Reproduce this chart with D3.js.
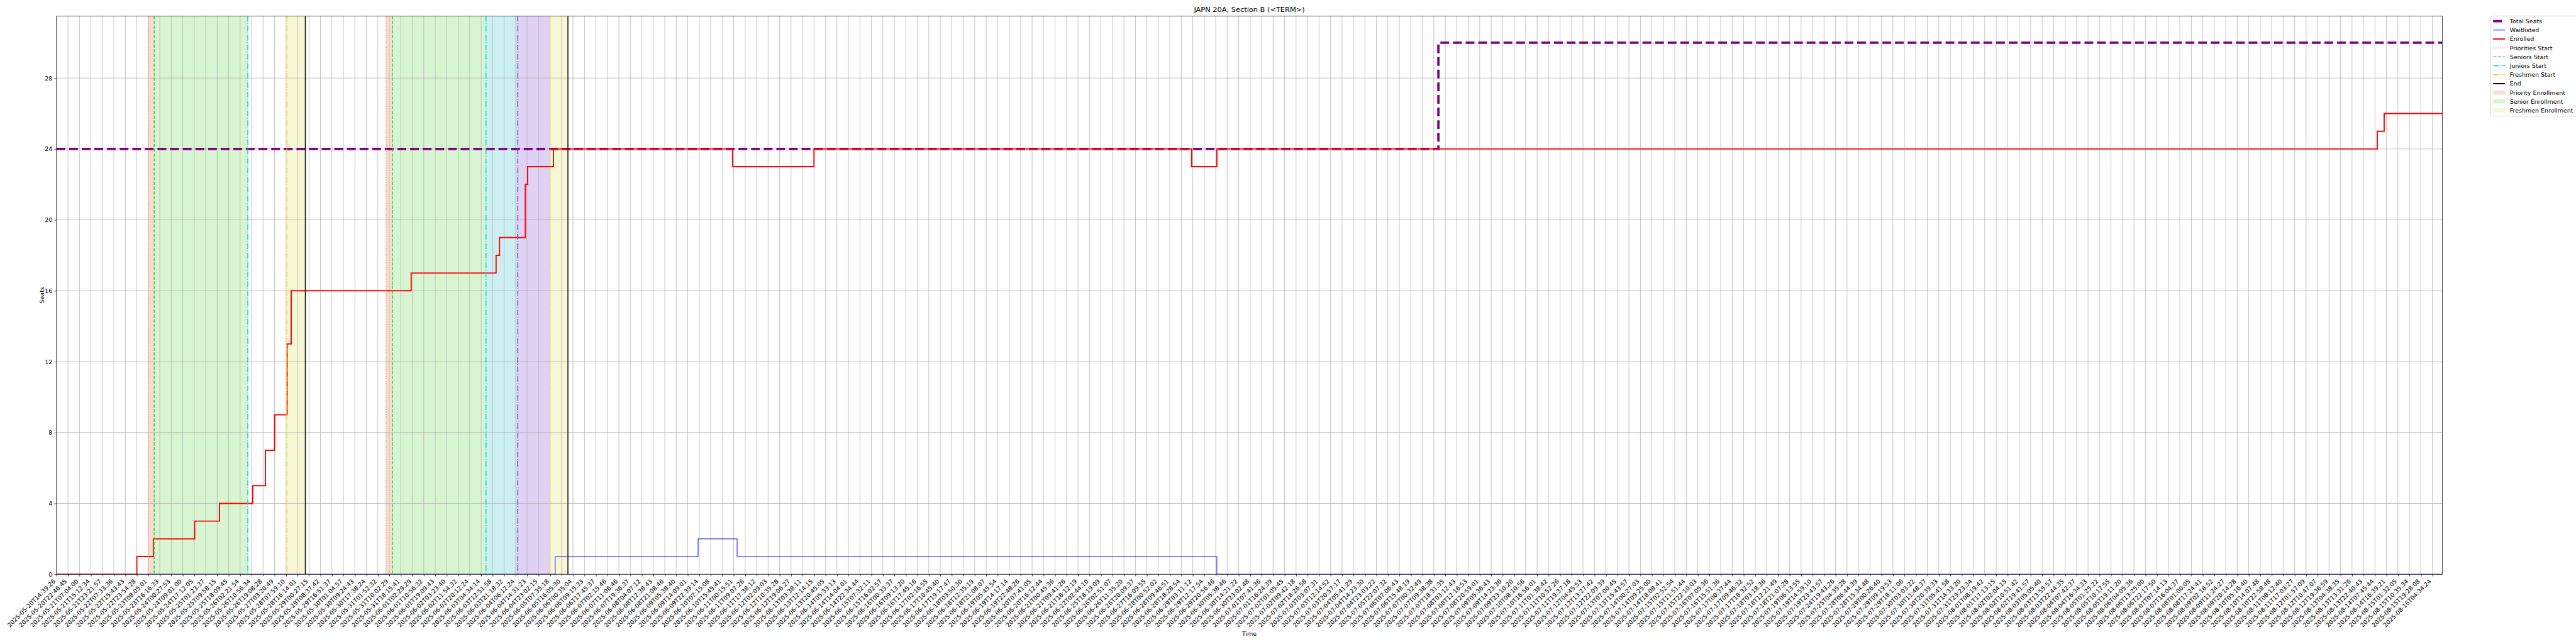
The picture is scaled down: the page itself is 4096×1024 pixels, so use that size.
<!DOCTYPE html>
<html><head><meta charset="utf-8">
<script src="https://cdn.jsdelivr.net/npm/d3@7"></script>
<style>body{margin:0;background:#fff} svg{display:block} text{font-family:"DejaVu Sans",sans-serif;fill:#000}</style>
</head><body><svg id="c" width="4096" height="1024"></svg>
<script>
// ---------- DATA ----------
const tickLabels = [
"2025-05-20T14:39:26","2025-05-20T22:46:45","2025-05-21T07:04:00","2025-05-21T15:12:34","2025-05-21T23:21:57",
"2025-05-22T07:33:36","2025-05-22T15:43:43","2025-05-22T23:54:28","2025-05-23T08:05:01","2025-05-23T16:16:33",
"2025-05-24T00:27:53","2025-05-24T09:01:00","2025-05-24T17:12:05","2025-05-25T01:23:37","2025-05-25T09:58:15",
"2025-05-25T18:09:45","2025-05-26T02:21:54","2025-05-26T10:56:34","2025-05-26T19:08:28","2025-05-27T03:20:49",
"2025-05-28T07:59:10","2025-05-28T16:14:01","2025-05-29T00:27:15","2025-05-29T08:37:42","2025-05-29T16:51:37",
"2025-05-30T01:04:57","2025-05-30T09:24:43","2025-05-30T17:38:24","2025-05-31T01:52:32","2025-05-31T10:02:29",
"2025-05-31T18:15:41","2025-06-01T02:29:29","2025-06-01T10:56:32","2025-06-01T19:09:43","2025-06-02T03:23:40",
"2025-06-02T11:54:32","2025-06-02T20:12:24","2025-06-03T04:34:14","2025-06-03T12:51:58","2025-06-03T21:18:32",
"2025-06-04T06:12:24","2025-06-04T14:31:23","2025-06-04T23:02:15","2025-06-05T07:35:18","2025-06-05T16:05:30",
"2025-06-06T00:35:04","2025-06-06T09:15:33","2025-06-06T17:45:37","2025-06-07T02:15:46","2025-06-07T11:06:46",
"2025-06-07T19:36:37","2025-06-08T04:07:12","2025-06-08T12:38:43","2025-06-08T21:08:46","2025-06-09T05:38:40",
"2025-06-09T14:09:01","2025-06-09T22:39:14","2025-06-10T07:15:08","2025-06-10T15:45:41","2025-06-11T00:15:51",
"2025-06-11T09:07:26","2025-06-11T17:38:12","2025-06-12T02:09:03","2025-06-12T10:35:28","2025-06-12T19:06:27",
"2025-06-13T03:38:11","2025-06-13T12:14:15","2025-06-13T20:45:05","2025-06-14T05:33:13","2025-06-14T14:04:01",
"2025-06-14T22:34:44","2025-06-15T07:32:11","2025-06-15T16:02:57","2025-06-16T00:33:37","2025-06-16T09:13:20",
"2025-06-16T17:45:16","2025-06-17T02:16:55","2025-06-17T10:45:40","2025-06-17T19:17:47","2025-06-18T03:50:30",
"2025-06-18T12:35:19","2025-06-18T21:08:07","2025-06-19T05:45:54","2025-06-19T14:17:14","2025-06-19T22:48:26",
"2025-06-20T07:41:05","2025-06-20T16:12:44","2025-06-21T00:45:36","2025-06-21T09:41:26","2025-06-21T18:12:19",
"2025-06-22T02:44:10","2025-06-25T18:19:09","2025-06-26T02:51:07","2025-06-26T11:35:20","2025-06-26T20:09:37",
"2025-06-27T16:09:55","2025-06-28T00:52:02","2025-06-28T09:46:51","2025-06-28T18:28:54","2025-06-29T03:11:12",
"2025-06-29T12:17:54","2025-06-29T20:56:46","2025-06-30T05:38:46","2025-06-30T14:21:22","2025-06-30T23:02:48",
"2025-07-01T07:41:36","2025-07-01T16:24:39","2025-07-02T01:05:45","2025-07-02T09:42:18","2025-07-02T18:26:58",
"2025-07-03T03:07:31","2025-07-03T12:14:52","2025-07-03T20:57:17","2025-07-04T05:41:29","2025-07-04T14:23:30",
"2025-07-04T23:03:22","2025-07-05T22:07:32","2025-07-06T07:06:43","2025-07-06T15:48:19","2025-07-07T00:32:49",
"2025-07-07T09:38:38","2025-07-07T18:31:35","2025-07-08T03:12:43","2025-07-08T12:16:53","2025-07-08T20:59:01",
"2025-07-09T05:36:43","2025-07-09T14:23:36","2025-07-09T23:10:20","2025-07-10T08:10:56","2025-07-10T16:56:01",
"2025-07-11T01:38:42","2025-07-11T10:52:26","2025-07-11T19:37:18","2025-07-12T04:45:53","2025-07-12T13:27:42",
"2025-07-12T22:09:39","2025-07-13T07:00:45","2025-07-13T15:43:57","2025-07-14T00:27:03","2025-07-14T09:25:00",
"2025-07-14T18:08:41","2025-07-15T02:52:54","2025-07-15T11:51:44","2025-07-15T22:10:03","2025-07-16T07:05:36",
"2025-07-16T15:51:36","2025-07-17T00:37:44","2025-07-17T09:46:32","2025-07-17T18:32:52","2025-07-18T03:18:36",
"2025-07-18T12:21:49","2025-07-18T21:07:28","2025-07-19T06:13:55","2025-07-19T14:59:10","2025-07-19T23:43:57",
"2025-07-24T19:43:26","2025-07-25T04:35:28","2025-07-28T06:44:39","2025-07-28T15:34:48","2025-07-29T00:26:40",
"2025-07-29T09:19:53","2025-07-29T18:11:06","2025-07-30T03:03:22","2025-07-30T11:48:37","2025-07-30T20:39:33",
"2025-07-31T05:41:58","2025-07-31T14:33:20","2025-07-31T23:23:34","2025-08-01T08:19:42","2025-08-01T17:13:15",
"2025-08-02T02:04:15","2025-08-02T10:51:42","2025-08-02T19:41:57","2025-08-03T05:05:40","2025-08-03T13:55:57",
"2025-08-03T22:44:35","2025-08-04T07:42:37","2025-08-04T16:34:33","2025-08-05T01:25:22","2025-08-05T10:17:55",
"2025-08-05T19:11:20","2025-08-06T04:05:36","2025-08-06T13:25:00","2025-08-06T22:17:50","2025-08-07T07:14:13",
"2025-08-07T16:04:37","2025-08-08T01:00:05","2025-08-08T17:24:41","2025-08-09T02:16:52","2025-08-09T11:24:27",
"2025-08-09T20:14:28","2025-08-10T05:16:40","2025-08-10T14:07:48","2025-08-10T22:58:48","2025-08-11T08:12:40",
"2025-08-11T17:03:27","2025-08-12T01:57:09","2025-08-12T10:47:07","2025-08-12T19:36:59","2025-08-13T04:38:35",
"2025-08-13T13:31:26","2025-08-13T22:40:43","2025-08-14T07:45:44","2025-08-14T16:39:21","2025-08-15T01:32:05",
"2025-08-15T10:35:34","2025-08-15T19:28:08","2025-08-16T04:34:24"
];
const xEnd = 207.86;               // last sample position, in tick units
const yTicks = [0, 4, 8, 12, 16, 20, 24, 28];
const yMax = 31.5;

// step series: [position in tick units, value] at each change
const totalSeats = [[0, 24], [120.4, 30]];
const waitlisted = [[0, 0], [43.45, 1], [55.9, 2], [59.3, 1], [101.1, 0]];
const enrolled = [[0, 0], [7.0, 1], [8.44, 2], [12.04, 3], [14.2, 4], [17.1, 5], [18.2, 7], [19.0, 9],
  [20.1, 13], [20.45, 16], [30.9, 17], [38.3, 18], [38.6, 19], [40.85, 22], [41.05, 23], [43.3, 24],
  [58.9, 23], [66.0, 24], [98.9, 23], [101.1, 24], [202.2, 25], [202.8, 26]];

// enrollment phase markers, in tick units
const priorityStarts = [7.99, 28.71];
const seniorStarts = [8.51, 29.27];
const juniorStarts = [16.67, 37.42];
const sophomoreStarts = [40.18];
const freshmenStarts = [20.07, 43.0];
const ends = [21.68, 44.56];
const prioritySpans = [[7.99, 8.51], [28.71, 29.27]];
const seniorSpans = [[8.51, 16.67], [29.27, 37.42]];
const juniorSpans = [[37.42, 40.18]];
const sophomoreSpans = [[40.18, 43.0]];
const freshmenSpans = [[20.07, 21.68], [43.0, 44.56]];

const legendLabels = ["Total Seats", "Waitlisted", "Enrolled", "Priorities Start", "Seniors Start",
  "Juniors Start", "Freshmen Start", "End", "Priority Enrollment", "Senior Enrollment", "Freshmen Enrollment"];

// ---------- STYLE ----------
const S = 0.682;
const C = {
  seats: "#800080", wait: "#0000ff", enr: "#ff0000",
  prio: "#ff7f50", sen: "#32cd32", jun: "#00ced1", soph: "#8a2be2", fre: "#dede3a", end: "#000000",
  prioFill: "#f7ddd2", senFill: "#d8f5d2", junFill: "#ccf0f2", sophFill: "#dfd2f5", freFill: "#f7f7d6"
};
const svg = d3.select("#c");
const M = {left: 131.7 * S, right: 5694 * S, top: 37.4 * S, bottom: 1339 * S};
const x = d3.scaleLinear().domain([0, xEnd]).range([M.left, M.right]);
const y = d3.scaleLinear().domain([0, yMax]).range([M.bottom, M.top]);

svg.append("defs").append("clipPath").attr("id", "clip").append("rect")
  .attr("x", M.left).attr("y", M.top).attr("width", M.right - M.left).attr("height", M.bottom - M.top);
const plot = svg.append("g").attr("clip-path", "url(#clip)");

// spans
function spans(list, fill) {
  plot.append("g").selectAll("rect").data(list).join("rect")
    .attr("x", d => x(d[0])).attr("width", d => x(d[1]) - x(d[0]))
    .attr("y", M.top).attr("height", M.bottom - M.top).attr("fill", fill);
}
spans(prioritySpans, C.prioFill);
spans(seniorSpans, C.senFill);
spans(juniorSpans, C.junFill);
spans(sophomoreSpans, C.sophFill);
spans(freshmenSpans, C.freFill);

// grid
const gridW = 0.8 * 100 / 72 * S;
plot.append("g").selectAll("line").data(d3.range(tickLabels.length)).join("line")
  .attr("x1", d => x(d)).attr("x2", d => x(d)).attr("y1", M.top).attr("y2", M.bottom)
  .attr("stroke", "#b0b0b0").attr("stroke-width", gridW);
plot.append("g").selectAll("line").data(yTicks).join("line")
  .attr("y1", d => y(d)).attr("y2", d => y(d)).attr("x1", M.left).attr("x2", M.right)
  .attr("stroke", "#b0b0b0").attr("stroke-width", gridW);

// step lines
const pt = v => v * 100 / 72 * S;
const stepLine = d3.line().x(d => x(d[0])).y(d => y(d[1])).curve(d3.curveStepAfter);
function series(data, color, lw, dash) {
  const pts = data.concat([[xEnd, data[data.length - 1][1]]]);
  plot.append("path").attr("d", stepLine(pts)).attr("fill", "none")
    .attr("stroke", color).attr("stroke-width", pt(lw))
    .attr("stroke-dasharray", dash ? dash.map(pt).join(" ") : null);
}
series(totalSeats, C.seats, 4, [14.8, 6.4]);
series(waitlisted, C.wait, 1);
series(enrolled, C.enr, 2);

// vertical markers
const DOT = [1.5, 2.475], DASH = [5.55, 2.4], DASHDOT = [9.6, 2.4, 1.5, 2.4];
function vlines(list, color, lw, dash) {
  plot.append("g").selectAll("line").data(list).join("line")
    .attr("x1", d => x(d)).attr("x2", d => x(d)).attr("y1", M.top).attr("y2", M.bottom)
    .attr("stroke", color).attr("stroke-width", pt(lw))
    .attr("stroke-dasharray", dash ? dash.map(pt).join(" ") : null);
}
vlines(priorityStarts, C.prio, 1.5, DOT);
vlines(seniorStarts, C.sen, 1.5, DASH);
vlines(juniorStarts, C.jun, 1.5, DASHDOT);
vlines(sophomoreStarts, C.soph, 1.5, DASHDOT);
vlines(freshmenStarts, C.fre, 1.5, DASHDOT);
vlines(ends, C.end, 1.5);

// spines
svg.append("rect").attr("x", M.left).attr("y", M.top).attr("width", M.right - M.left)
  .attr("height", M.bottom - M.top).attr("fill", "none").attr("stroke", "#000").attr("stroke-width", gridW);

// axes
const fs = 10 * 100 / 72 * S;
const tickLen = 3.5 * 100 / 72 * S;
const xAxis = svg.append("g").attr("transform", `translate(0,${M.bottom})`)
  .call(d3.axisBottom(x).tickValues(d3.range(tickLabels.length)).tickFormat(i => tickLabels[i])
    .tickSize(tickLen).tickPadding(0));
xAxis.select(".domain").remove();
xAxis.selectAll(".tick line").attr("stroke", "#000").attr("stroke-width", gridW);
xAxis.selectAll(".tick text").attr("font-size", fs).attr("font-family", "DejaVu Sans")
  .attr("text-anchor", "end").attr("dy", null).attr("y", null)
  .attr("transform", `translate(${-0.24 * fs * 0.707},${tickLen * 2 + 0.76 * fs * 0.707}) rotate(-45)`);

const yAxis = svg.append("g").attr("transform", `translate(${M.left},0)`)
  .call(d3.axisLeft(y).tickValues(yTicks).tickSize(tickLen).tickPadding(tickLen));
yAxis.select(".domain").remove();
yAxis.selectAll(".tick line").attr("stroke", "#000").attr("stroke-width", gridW);
yAxis.selectAll(".tick text").attr("font-size", fs).attr("font-family", "DejaVu Sans");

// labels
svg.append("text").attr("x", (M.left + M.right) / 2).attr("y", 28.5 * S).attr("text-anchor", "middle")
  .attr("font-size", 12 * 100 / 72 * S).text("JAPN 20A, Section B (<TERM>)");
svg.append("text").attr("x", (M.left + M.right) / 2).attr("y", 1482 * S).attr("text-anchor", "middle")
  .attr("font-size", fs).text("Time");
svg.append("text").attr("transform", `translate(${103 * S},${(M.top + M.bottom) / 2}) rotate(-90)`)
  .attr("text-anchor", "middle").attr("font-size", fs).text("Seats");

// legend
const L = {x: 5807 * S, y: 37.3 * S, h: (270.7 - 37.3) * S, row0: 49.3 * S, pitch: 20.8 * S,
  hx: 5812.6 * S, hl: 27.8 * S, tx: 5851.5 * S};
const lg = svg.append("g");
lg.append("rect").attr("x", L.x).attr("y", L.y).attr("width", 4096 - L.x + 10).attr("height", L.h)
  .attr("rx", 2.5).attr("fill", "#fff").attr("fill-opacity", 0.8).attr("stroke", "#cccccc").attr("stroke-width", gridW);
const handles = [
  {c: C.seats, lw: 4, dash: [14.8, 6.4]}, {c: C.wait, lw: 1}, {c: C.enr, lw: 2},
  {c: C.prio, lw: 1.5, dash: DOT}, {c: C.sen, lw: 1.5, dash: DASH}, {c: C.jun, lw: 1.5, dash: DASHDOT},
  {c: C.fre, lw: 1.5, dash: DASHDOT}, {c: C.end, lw: 2},
  {patch: C.prioFill}, {patch: C.senFill}, {patch: C.freFill}
];
legendLabels.forEach((lab, i) => {
  const cy = L.row0 + i * L.pitch, h = handles[i];
  if (h.patch) {
    lg.append("rect").attr("x", L.hx).attr("y", cy - 0.35 * fs).attr("width", L.hl).attr("height", 0.7 * fs)
      .attr("fill", h.patch);
  } else {
    lg.append("line").attr("x1", L.hx).attr("x2", L.hx + L.hl).attr("y1", cy).attr("y2", cy)
      .attr("stroke", h.c).attr("stroke-width", pt(h.lw))
      .attr("stroke-dasharray", h.dash ? h.dash.map(pt).join(" ") : null);
  }
  lg.append("text").attr("x", L.tx).attr("y", cy).attr("dy", "0.36em").attr("font-size", fs).text(lab);
});
</script></body></html>
